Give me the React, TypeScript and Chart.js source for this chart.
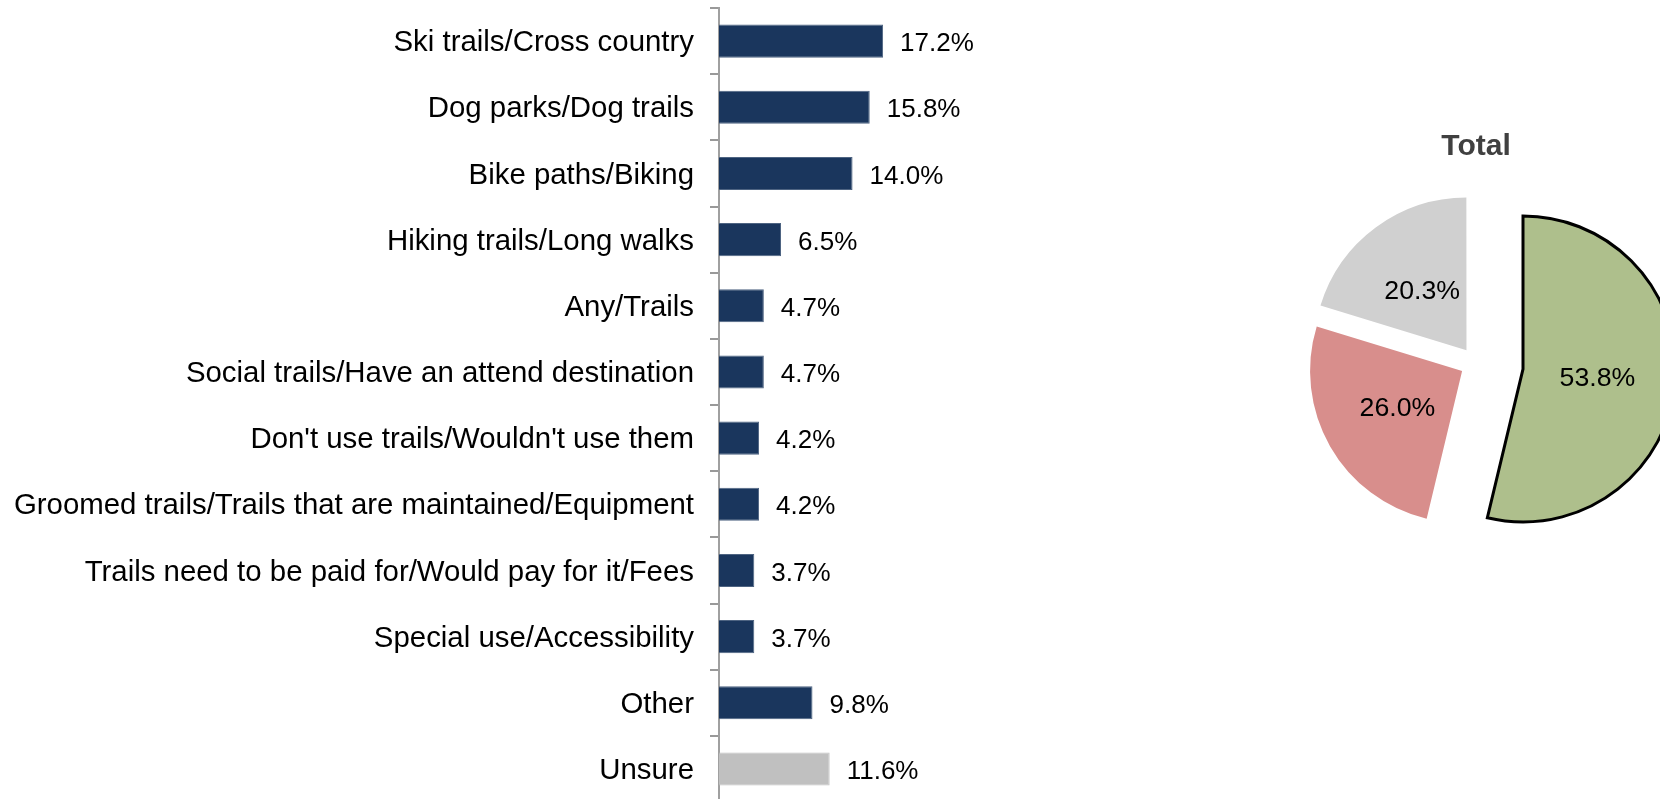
import React, { useEffect, useRef } from 'react';
import { Chart, registerables } from 'chart.js';

Chart.register(...registerables);

// ---------- data ----------
const categories = [
  'Ski trails/Cross country',
  'Dog parks/Dog trails',
  'Bike paths/Biking',
  'Hiking trails/Long walks',
  'Any/Trails',
  'Social trails/Have an attend destination',
  "Don't use trails/Wouldn't use them",
  'Groomed trails/Trails that are maintained/Equipment',
  'Trails need to be paid for/Would pay for it/Fees',
  'Special use/Accessibility',
  'Other',
  'Unsure',
];
const values = [17.2, 15.8, 14.0, 6.5, 4.7, 4.7, 4.2, 4.2, 3.7, 3.7, 9.8, 11.6];

const pieTitle = 'Total';
const pieLabels = ['Yes', 'No', 'Unsure'];
const pieValues = [53.8, 26.0, 20.3];

// ---------- styles ----------
const FONT = "'Liberation Sans', Arial, Helvetica, sans-serif";
const NAVY = '#1A365D';
const NAVY_EDGE = '#4E6482';
const GREY_BAR = '#C0C0C0';
const AXIS_GREY = '#A0A0A0';
const PIE_GREEN = '#AEBF8C';
const PIE_RED = '#D88E8C';
const PIE_GREY = '#D0D0D0';
const CLEAR = 'rgba(0,0,0,0)';

const barValuePlugin = {
  id: 'barValues',
  afterDatasetsDraw(chart: any) {
    const ctx = chart.ctx;
    const meta = chart.getDatasetMeta(0);
    ctx.save();
    ctx.font = `26px ${FONT}`;
    ctx.fillStyle = '#000';
    ctx.textAlign = 'left';
    ctx.textBaseline = 'middle';
    meta.data.forEach((el: any, i: number) => {
      ctx.fillText(values[i].toFixed(1) + '%', el.x + 17, el.y + 3);
    });
    ctx.restore();
  },
};

const makePieLabelPlugin = (indices: number[]) => ({
  id: 'pieLabels',
  afterDatasetsDraw(chart: any) {
    const ctx = chart.ctx;
    const meta = chart.getDatasetMeta(0);
    ctx.save();
    ctx.font = `26.7px ${FONT}`;
    ctx.fillStyle = '#000';
    ctx.textAlign = 'center';
    ctx.textBaseline = 'middle';
    indices.forEach((i) => {
      const el: any = meta.data[i];
      const mid = (el.startAngle + el.endAngle) / 2;
      const off = (el.options.offset || 0) / 4;
      const d = off + el.outerRadius * 0.49;
      ctx.fillText(
        pieValues[i].toFixed(1) + '%',
        el.x + Math.cos(mid) * d,
        el.y + Math.sin(mid) * d + 1
      );
    });
    ctx.restore();
  },
});

export default function App() {
  const barRef = useRef<HTMLCanvasElement | null>(null);
  const greenRef = useRef<HTMLCanvasElement | null>(null);
  const pieRef = useRef<HTMLCanvasElement | null>(null);

  useEffect(() => {
    Chart.defaults.font.family = FONT;

    const bar = new Chart(barRef.current as HTMLCanvasElement, {
      type: 'bar',
      data: {
        labels: categories,
        datasets: [
          {
            data: values,
            backgroundColor: (c: any) =>
              categories[c.dataIndex] === 'Unsure' ? GREY_BAR : NAVY,
            borderColor: (c: any) =>
              categories[c.dataIndex] === 'Unsure' ? GREY_BAR : NAVY_EDGE,
            borderWidth: 1,
            barPercentage: 0.5,
            categoryPercentage: 1,
          },
        ],
      },
      options: {
        indexAxis: 'y',
        responsive: false,
        animation: false,
        layout: { padding: { top: 8, bottom: 28, left: 0, right: 0 } },
        plugins: {
          legend: { display: false },
          tooltip: { enabled: false },
          title: { display: false },
        },
        scales: {
          x: { display: false, min: 0, max: 50 },
          y: {
            z: 1,
            grid: {
              display: true,
              drawOnChartArea: false,
              drawTicks: true,
              tickLength: 9,
              color: '#999999',
              lineWidth: 2,
              offset: true,
            },
            border: { display: true, color: AXIS_GREY, width: 2 },
            ticks: {
              color: '#000',
              font: { size: 29.4, family: FONT },
              padding: 16,
              autoSkip: false,
              labelOffset: 2,
            },
            afterFit: (s: any) => {
              s.width = 719;
              s.paddingTop = 0;
              s.paddingBottom = 0;
            },
          },
        },
      } as any,
      plugins: [barValuePlugin],
    });

    const green = new Chart(greenRef.current as HTMLCanvasElement, {
      type: 'pie',
      data: {
        labels: pieLabels,
        datasets: [
          {
            data: pieValues,
            radius: 153,
            backgroundColor: (c: any) => (c.dataIndex === 0 ? PIE_GREEN : CLEAR),
            borderColor: '#000',
            borderWidth: (c: any) => (c.dataIndex === 0 ? 3 : 0),
            borderJoinStyle: 'miter',
          } as any,
        ],
      },
      options: {
        responsive: false,
        animation: false,
        plugins: { legend: { display: false }, tooltip: { enabled: false } },
      } as any,
      plugins: [makePieLabelPlugin([0])],
    });

    const pie = new Chart(pieRef.current as HTMLCanvasElement, {
      type: 'pie',
      data: {
        labels: pieLabels,
        datasets: [
          {
            data: pieValues,
            radius: 152,
            backgroundColor: (c: any) =>
              c.dataIndex === 0 ? CLEAR : c.dataIndex === 1 ? PIE_RED : PIE_GREY,
            borderWidth: 0,
            offset: (c: any) => (c.dataIndex === 0 ? 0 : 64),
          } as any,
        ],
      },
      options: {
        responsive: false,
        animation: false,
        plugins: {
          legend: { display: false },
          tooltip: { enabled: false },
          title: {
            display: true,
            text: pieTitle,
            color: '#404040',
            font: { size: 30, weight: 'bold', family: FONT, lineHeight: 1.2 },
            padding: { top: 129, bottom: 0 },
          },
        },
      } as any,
      plugins: [makePieLabelPlugin([1, 2])],
    });

    return () => {
      bar.destroy();
      green.destroy();
      pie.destroy();
    };
  }, []);

  return (
    <div
      style={{
        position: 'fixed',
        left: 0,
        top: 0,
        width: 1660,
        height: 799,
        overflow: 'hidden',
        background: '#fff',
      }}
    >
      <canvas
        ref={barRef}
        width={1196}
        height={830}
        style={{ position: 'absolute', left: 0, top: 0 }}
      />
      <canvas
        ref={pieRef}
        width={400}
        height={561}
        style={{ position: 'absolute', left: 1276, top: 0 }}
      />
      <canvas
        ref={greenRef}
        width={400}
        height={400}
        style={{ position: 'absolute', left: 1323, top: 169 }}
      />
    </div>
  );
}
